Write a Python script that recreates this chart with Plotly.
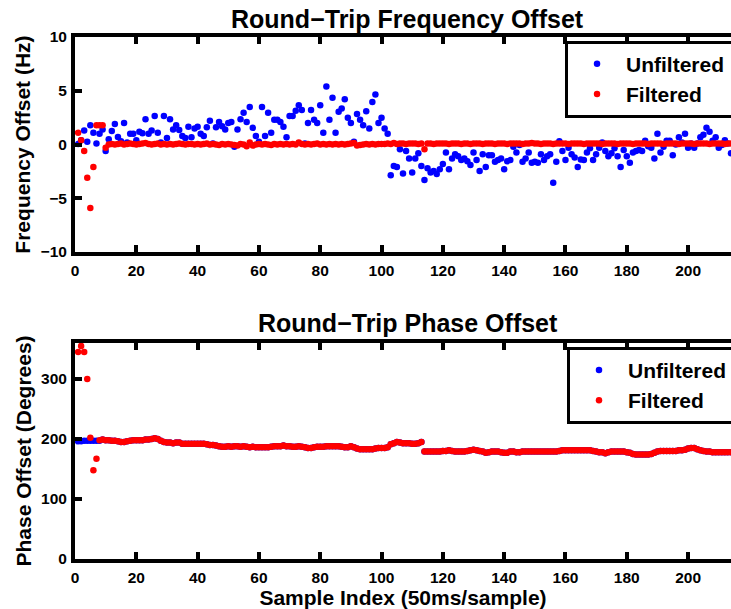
import plotly.graph_objects as go

# ---------------- data ----------------
sample_index = list(range(1, 215))

freq_unfiltered = [
    0.05, 0.4, 1.3, 0.25, 1.8, 1.1, 0.1, 1.0, 1.4, -0.6,
    0.5, 1.25, 1.9, 0.7, 0.3, 2.0, 0.2, 1.0, 1.0, 0.4,
    1.2, 1.05, 2.35, 1.0, 1.3, 2.65, 1.1, 0.2, 2.65, 0.6,
    2.35, 1.4, 1.8, 1.35, 0.8, 0.6, 1.65, 0.67, 1.5, 1.65,
    1.0, 0.8, 1.6, 2.2, 0.1, 1.6, 2.1, 1.7, 1.4, 2.0,
    2.1, -0.2, 1.4, 2.35, 2.95, 2.1, 3.5, 1.55, 0.8, 0.25,
    3.5, 0.8, 2.95, 1.1, 2.3, 2.3, 2.1, 1.65, 0.67, 2.65,
    2.65, 3.15, 3.65, 3.2, 0.1, 2.0, 3.2, 2.3, 2.0, 3.65,
    1.1, 5.4, 2.3, 4.35, 1.1, 3.05, 3.35, 4.2, 2.5, 2.0,
    0.25, 2.85, 2.3, 1.8, 3.1, 1.5, 3.95, 4.65, 2.0, 2.5,
    1.5, 1.0, -2.85, -2.0, -2.1, -0.45, -2.7, -0.6, -1.3, -2.6,
    -1.3, -0.8, -2.0, -3.3, -2.2, -2.6, -2.45, -2.75, -2.3, -1.8,
    -0.75, -2.3, -1.3, -0.9, -1.1, -1.45, -1.3, -1.55, -1.9, -0.75,
    -1.45, -2.45, -0.9, -2.1, -1.0, -1.0, -1.6, -1.45, -1.3, -2.3,
    -1.55, -1.45, -0.2, -0.75, -0.05, -1.6, -1.3, -0.75, -1.7, -1.6,
    -1.7, -0.9, -1.45, -1.1, -0.9, -3.55, -1.6, 0.3, -0.6, -1.45,
    -0.3, -0.9, -1.2, -2.1, -1.4, -1.45, -0.75, -0.35, -1.45, -0.9,
    -0.3, 0.2, -0.6, -1.1, -0.8, -0.35, -1.1, -2.1, -0.5, -1.1,
    -1.7, -0.75, -0.6, -0.5, -0.6, 0.35, -0.15, -0.3, -1.3, 1.0,
    -0.75, -0.2, 0.35, 0.35, -1.0, 0.0, 0.67, 0.2, 1.0, -0.3,
    0.1, -0.3, 0.1, 0.67, 0.9, 1.55, 1.2, 0.35, 0.67, -0.3,
    -0.05, 0.4, 0.1, -0.8,
]

freq_filtered = [
    1.1, 0.4, -0.6, -3.1, -5.9, -2.1, 1.8, 1.8, 1.8, -0.3,
    0.0, 0.05, 0.0, 0.05, 0.1, 0.0, 0.05, 0.1, 0.05, 0.0,
    0.05, 0.1, 0.15, 0.05, 0.0, 0.05, 0.1, 0.0, 0.05, 0.0,
    0.05, 0.0, 0.05, 0.1, 0.05, 0.0, 0.05, 0.05, 0.0, 0.05,
    0.0, 0.05, 0.1, 0.0, 0.05, 0.0, -0.05, 0.05, 0.0, 0.05,
    0.0, -0.05, -0.1, 0.05, 0.0, -0.15, 0.2, -0.1, 0.0, 0.05,
    0.0, 0.05, 0.0, -0.05, 0.05, 0.0, 0.05, 0.0, 0.05, 0.0,
    0.05, 0.0, 0.2, 0.05, 0.0, 0.05, 0.0, 0.05, 0.1, 0.0,
    0.05, 0.0, 0.05, 0.0, 0.05, 0.0, 0.05, 0.0, 0.05, 0.1,
    0.15, -0.1, -0.05, 0.0, 0.05, 0.0, 0.05, 0.0, 0.05, 0.05,
    0.05, 0.1, 0.05, 0.15, 0.05, 0.1, 0.1, 0.05, 0.1, 0.1,
    0.1, 0.05, 0.1, -0.45, 0.1, 0.1, 0.05, 0.1, 0.1, 0.1,
    0.1, 0.05, 0.1, 0.1, 0.1, 0.05, 0.1, 0.1, 0.05, 0.1,
    0.1, 0.1, 0.05, 0.1, 0.1, 0.1, 0.05, 0.1, 0.1, 0.1,
    0.05, 0.1, 0.1, 0.1, 0.1, 0.05, 0.1, 0.1, 0.15, 0.1,
    0.1, 0.05, 0.1, 0.1, 0.1, 0.05, 0.1, 0.1, 0.1, 0.1,
    0.05, 0.1, 0.1, 0.1, 0.1, 0.05, 0.1, 0.1, 0.1, 0.1,
    0.1, 0.05, 0.1, 0.1, 0.1, 0.1, 0.05, 0.1, 0.1, 0.1,
    0.1, 0.05, 0.1, 0.1, 0.1, 0.1, 0.05, 0.1, 0.1, 0.1,
    0.1, 0.05, 0.1, 0.1, 0.1, 0.1, 0.05, 0.1, 0.1, 0.1,
    0.1, 0.05, 0.1, 0.1, 0.1, 0.1, 0.05, 0.1, 0.1, 0.1,
    0.1, 0.05, 0.1, 0.1,
]

phase_filtered = [
    345, 355, 345, 300, 202, 148, 167, 198, 199, 198,
    198, 197, 197, 196, 195, 195, 196, 197, 198, 198,
    198, 198, 199, 199, 200, 201, 200, 197, 195, 194,
    194, 193, 194, 194, 192, 192, 192, 192, 192, 192,
    192, 192, 191, 190, 190, 189, 188, 187, 187, 188,
    187, 188, 188, 187, 188, 187, 186, 187, 186, 186,
    186, 186, 186, 187, 188, 188, 188, 189, 188, 188,
    187, 187, 188, 187, 186, 185, 185, 186, 187, 187,
    187, 188, 188, 188, 188, 188, 187, 186, 186, 188,
    186, 184, 183, 183, 183, 183, 183, 184, 185, 185,
    185, 186, 191, 193, 195, 194, 193, 193, 193, 192,
    192, 193, 195, 179, 179, 179, 179, 179, 179, 180,
    180, 181, 180, 179, 179, 179, 179, 180, 181, 182,
    181, 180, 179, 177, 178, 179, 179, 179, 178, 177,
    177, 179, 179, 178, 178, 179, 179, 179, 179, 179,
    179, 179, 179, 179, 179, 179, 179, 180, 181, 181,
    181, 181, 181, 181, 181, 181, 181, 181, 180, 179,
    178, 178, 176, 178, 179, 179, 179, 179, 179, 178,
    177, 175, 174, 174, 174, 174, 174, 175, 177, 179,
    180, 180, 180, 180, 180, 180, 181, 181, 182, 184,
    185, 185, 183, 181, 180, 179, 179, 178, 178, 178,
    178, 178, 178, 178,
]

# unfiltered phase: first samples before the filter locks, identical afterwards
phase_unfiltered_start = [196, 196, 197, 197, 197, 197, 197, 197]
phase_unfiltered = phase_unfiltered_start + phase_filtered[8:]

x_ticks = [0, 20, 40, 60, 80, 100, 120, 140, 160, 180, 200]
freq_ticks = [-10, -5, 0, 5, 10]
phase_ticks = [0, 100, 200, 300]

# ---------------- figure ----------------
FONT = "Liberation Sans, Arial, Helvetica, sans-serif"
BLUE = "#0000ff"
RED = "#ff0000"
PAD = "\u00a0"  # legend box runs past the right edge, as in the original


def tfont(size):
    return dict(family=FONT, size=size, color="black", weight="bold")


fig = go.Figure()
fig.add_trace(go.Scatter(x=sample_index, y=freq_unfiltered, mode="markers",
                         marker=dict(color=BLUE, size=6.5), name="Unfiltered" + PAD,
                         xaxis="x", yaxis="y", legend="legend"))
fig.add_trace(go.Scatter(x=sample_index, y=freq_filtered, mode="markers",
                         marker=dict(color=RED, size=6.5), name="Filtered",
                         xaxis="x", yaxis="y", legend="legend"))
fig.add_trace(go.Scatter(x=sample_index, y=phase_unfiltered, mode="markers",
                         marker=dict(color=BLUE, size=6.5), name="Unfiltered" + PAD,
                         xaxis="x2", yaxis="y2", legend="legend2"))
fig.add_trace(go.Scatter(x=sample_index, y=phase_filtered, mode="markers",
                         marker=dict(color=RED, size=6.5), name="Filtered",
                         xaxis="x2", yaxis="y2", legend="legend2"))

axis_style = dict(showline=True, linecolor="black", linewidth=4,
                  ticks="inside", ticklen=7, tickwidth=4, tickcolor="black",
                  showgrid=False, zeroline=False, tickfont=tfont(15.5),
                  automargin=False, ticklabelstandoff=1)

fig.update_layout(
    width=731, height=609,
    margin=dict(l=75, r=0, t=37, b=50, autoexpand=False),
    paper_bgcolor="white", plot_bgcolor="white",
    xaxis=dict(domain=[0, 1], anchor="y", range=[0, 214], tickvals=x_ticks,
               mirror="ticks", **axis_style),
    yaxis=dict(domain=[0.588, 1], anchor="x", range=[-10, 10], tickvals=freq_ticks,
               title=dict(text="Frequency Offset (Hz)", font=tfont(21), standoff=5),
               **axis_style),
    xaxis2=dict(domain=[0, 1], anchor="y2", range=[0, 214], tickvals=x_ticks,
                mirror="ticks",
                title=dict(text="Sample Index (50ms/sample)", font=tfont(21), standoff=4),
                **axis_style),
    yaxis2=dict(domain=[0, 0.414], anchor="x2", range=[0, 360], tickvals=phase_ticks,
                title=dict(text="Phase Offset (Degrees)", font=tfont(21), standoff=5),
                **axis_style),
    legend=dict(x=0.747, y=0.993, xanchor="left", yanchor="top",
                bordercolor="black", borderwidth=3, bgcolor="white",
                font=tfont(21), itemwidth=48, tracegroupgap=0),
    legend2=dict(x=0.75, y=0.4066, xanchor="left", yanchor="top",
                 bordercolor="black", borderwidth=3, bgcolor="white",
                 font=tfont(21), itemwidth=48, tracegroupgap=0),
    annotations=[
        dict(text="Round\u2212Trip Frequency Offset", x=0.507, y=1.0345,
             xref="paper", yref="paper", xanchor="center", yanchor="middle",
             showarrow=False, font=tfont(25)),
        dict(text="Round\u2212Trip Phase Offset", x=0.507, y=0.452,
             xref="paper", yref="paper", xanchor="center", yanchor="middle",
             showarrow=False, font=tfont(25)),
    ],
    showlegend=True,
)

fig.write_html("out.html")
